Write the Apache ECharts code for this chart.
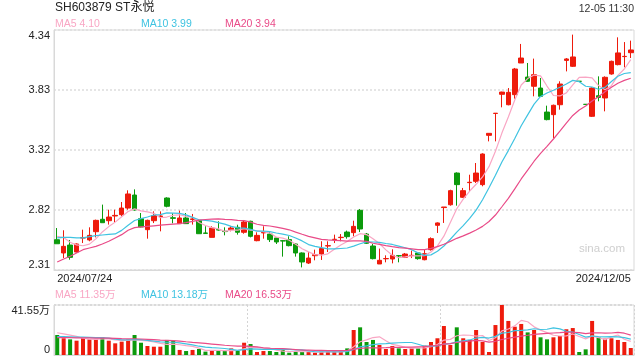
<!DOCTYPE html>
<html><head><meta charset="utf-8">
<script src="https://cdn.jsdelivr.net/npm/echarts@6.0.0/dist/echarts.min.js"></script>
<style>html,body{margin:0;padding:0;background:#fff}#c{width:640px;height:360px}</style>
</head><body><div id="c"></div>
<script>
const dates = ['2024/07/24','2024/07/25','2024/07/26','2024/07/29','2024/07/30','2024/07/31',
'2024/08/01','2024/08/02','2024/08/05','2024/08/06','2024/08/07','2024/08/08','2024/08/09','2024/08/12','2024/08/13','2024/08/14','2024/08/15','2024/08/16','2024/08/19','2024/08/20','2024/08/21','2024/08/22','2024/08/23','2024/08/26','2024/08/27','2024/08/28','2024/08/29','2024/08/30',
'2024/09/02','2024/09/03','2024/09/04','2024/09/05','2024/09/06','2024/09/09','2024/09/10','2024/09/11','2024/09/12','2024/09/13','2024/09/18','2024/09/19','2024/09/20','2024/09/23','2024/09/24','2024/09/25','2024/09/26','2024/09/27','2024/09/30',
'2024/10/08','2024/10/09','2024/10/10','2024/10/11','2024/10/14','2024/10/15','2024/10/16','2024/10/17','2024/10/18','2024/10/21','2024/10/22','2024/10/23','2024/10/24','2024/10/25','2024/10/28','2024/10/29','2024/10/30','2024/10/31',
'2024/11/01','2024/11/04','2024/11/05','2024/11/06','2024/11/07','2024/11/08','2024/11/11','2024/11/12','2024/11/13','2024/11/14','2024/11/15','2024/11/18','2024/11/19','2024/11/20','2024/11/21','2024/11/22','2024/11/25','2024/11/26','2024/11/27','2024/11/28','2024/11/29',
'2024/12/02','2024/12/03','2024/12/04','2024/12/05'];

const opens = [2.566,2.454,2.521,2.462,2.580,2.564,2.634,2.739,2.727,2.767,
2.778,2.834,2.944,2.744,2.651,2.727,2.762,2.919,2.752,2.702,
2.750,2.738,2.730,2.623,2.586,2.652,2.638,2.651,2.671,2.629,
2.722,2.558,2.624,2.614,2.581,2.558,2.567,2.530,2.454,2.369,
2.431,2.445,2.513,2.567,2.584,2.631,2.626,2.815,2.614,2.513,
2.361,2.405,2.403,2.431,2.417,2.432,2.454,2.397,2.482,2.688,
2.838,2.862,3.130,2.925,3.049,3.060,3.032,3.449,3.634,3.796,
3.708,3.793,4.061,3.942,3.864,3.849,3.646,3.624,3.708,4.083,
4.033,3.906,3.711,3.610,3.784,3.765,3.968,4.047,4.115,4.148];
const closes = [2.532,2.510,2.417,2.530,2.585,2.603,2.730,2.710,2.758,2.772,
2.834,2.953,2.818,2.674,2.730,2.770,2.767,2.849,2.747,2.750,
2.702,2.742,2.617,2.620,2.665,2.648,2.635,2.665,2.629,2.716,
2.595,2.603,2.627,2.567,2.547,2.555,2.516,2.454,2.378,2.411,
2.440,2.491,2.516,2.570,2.587,2.592,2.679,2.657,2.536,2.406,
2.392,2.407,2.434,2.429,2.445,2.434,2.406,2.448,2.575,2.708,
2.843,2.981,3.032,2.981,3.052,3.130,3.291,3.466,3.636,3.815,
3.813,4.010,4.103,3.906,3.962,3.779,3.582,3.703,3.883,4.095,
4.112,3.906,3.711,3.849,3.770,3.940,4.075,4.146,4.117,4.171];
const lows = [2.532,2.411,2.397,2.457,2.538,2.553,2.586,2.710,2.694,2.713,
2.764,2.820,2.812,2.671,2.575,2.707,2.637,2.840,2.705,2.699,
2.699,2.694,2.615,2.615,2.586,2.643,2.603,2.637,2.609,2.617,
2.586,2.553,2.575,2.547,2.530,2.423,2.510,2.423,2.332,2.361,
2.392,2.395,2.462,2.538,2.553,2.575,2.595,2.631,2.530,2.400,
2.361,2.375,2.366,2.375,2.411,2.411,2.397,2.392,2.474,2.623,
2.708,2.854,2.854,2.919,2.975,3.046,3.018,3.398,3.398,3.686,
3.703,3.759,4.061,3.900,3.779,3.773,3.576,3.427,3.666,3.990,
4.027,3.906,3.711,3.604,3.737,3.652,3.962,4.041,4.024,4.103];
const highs = [2.665,2.646,2.564,2.535,2.651,2.671,2.736,2.863,2.820,2.820,
2.885,2.984,2.992,2.792,2.736,2.806,2.806,2.925,2.790,2.812,
2.792,2.784,2.736,2.680,2.680,2.722,2.671,2.680,2.693,2.733,
2.727,2.629,2.680,2.631,2.586,2.564,2.595,2.538,2.459,2.462,
2.482,2.553,2.553,2.609,2.614,2.643,2.727,2.826,2.623,2.530,
2.491,2.434,2.485,2.437,2.454,2.474,2.459,2.482,2.586,2.713,
2.843,2.989,3.136,3.004,3.116,3.215,3.297,3.466,3.636,3.818,
3.849,4.019,4.222,4.061,4.098,3.934,3.700,3.709,3.906,4.103,
4.301,3.906,3.711,3.855,3.948,3.948,4.081,4.278,4.238,4.250];

const ma5 = [2.595,2.585,2.545,2.522,2.515,2.529,2.573,2.632,2.677,2.715,
2.761,2.805,2.827,2.810,2.802,2.789,2.752,2.758,2.773,2.777,
2.763,2.758,2.712,2.686,2.669,2.658,2.637,2.647,2.648,2.659,
2.648,2.642,2.634,2.622,2.588,2.580,2.562,2.528,2.490,2.463,
2.440,2.435,2.447,2.486,2.521,2.551,2.589,2.617,2.610,2.574,
2.534,2.480,2.435,2.414,2.421,2.430,2.430,2.432,2.462,2.514,
2.596,2.711,2.828,2.909,2.978,3.035,3.097,3.184,3.315,3.468,
3.604,3.748,3.875,3.929,3.959,3.952,3.866,3.786,3.782,3.808,
3.875,3.940,3.941,3.935,3.870,3.835,3.869,3.956,4.010,4.090];
const ma10 = [2.581,2.586,2.586,2.581,2.581,2.592,2.600,2.606,2.611,2.615,
2.645,2.689,2.729,2.744,2.758,2.775,2.779,2.793,2.791,2.789,
2.776,2.755,2.735,2.729,2.723,2.711,2.698,2.679,2.667,2.664,
2.653,2.639,2.640,2.635,2.623,2.614,2.602,2.581,2.556,2.525,
2.510,2.499,2.488,2.488,2.492,2.496,2.512,2.532,2.548,2.547,
2.543,2.534,2.526,2.512,2.498,2.482,2.455,2.434,2.438,2.468,
2.513,2.570,2.630,2.685,2.746,2.816,2.904,3.006,3.112,3.223,
3.320,3.423,3.530,3.622,3.713,3.778,3.807,3.831,3.856,3.884,
3.914,3.903,3.864,3.858,3.839,3.855,3.904,3.949,3.972,3.980];
const ma20 = [2.378,2.403,2.426,2.454,2.482,2.496,2.510,2.530,2.553,2.581,
2.609,2.646,2.668,2.674,2.679,2.684,2.689,2.694,2.698,2.702,
2.710,2.722,2.732,2.737,2.741,2.743,2.738,2.736,2.729,2.727,
2.715,2.697,2.688,2.682,2.673,2.662,2.650,2.630,2.612,2.595,
2.582,2.569,2.564,2.561,2.558,2.555,2.557,2.557,2.552,2.536,
2.526,2.516,2.507,2.500,2.495,2.489,2.483,2.483,2.493,2.508,
2.528,2.552,2.578,2.599,2.622,2.649,2.679,2.720,2.775,2.845,
2.916,2.996,3.080,3.154,3.230,3.297,3.356,3.418,3.484,3.553,
3.617,3.663,3.697,3.740,3.776,3.817,3.856,3.890,3.914,3.932];

const volumes = [16.6,13.9,13.0,11.9,13.9,13.0,13.0,14.7,11.9,9.7,
11.1,13.0,16.6,10.2,7.5,6.9,6.9,12.5,11.9,4.2,
3.3,4.2,5.0,2.8,3.6,3.3,3.3,5.5,3.6,10.2,
9.1,2.5,3.3,3.3,2.5,4.2,1.9,2.5,2.5,2.5,
1.9,2.8,2.8,2.8,2.8,5.5,20.8,23.0,10.8,12.5,
8.3,5.0,7.5,5.5,5.0,5.5,5.5,7.8,10.8,13.9,
24.1,8.3,23.0,13.9,12.5,20.8,10.8,2.5,24.9,41.55,
28.3,23.5,25.8,18.8,20.8,14.7,13.0,14.7,15.8,21.4,
22.4,2.5,4.7,28.3,14.7,13.6,13.9,12.5,10.8,5.8];
const volMa5 = [18.5,17.5,16.5,15.5,13.9,13.1,13.0,13.3,13.3,12.5,
12.1,12.1,12.5,12.1,11.7,10.8,9.6,8.8,9.1,8.5,
7.8,7.2,5.7,3.9,3.8,3.8,3.6,3.7,3.9,5.2,
6.3,6.2,5.7,5.7,4.1,3.2,3.0,2.9,2.7,2.7,
2.3,2.4,2.5,2.6,2.6,3.3,6.9,11.0,12.6,14.5,
15.1,11.9,8.8,7.8,6.3,5.7,5.8,5.9,6.9,8.7,
12.4,13.0,16.0,16.6,16.4,15.7,16.2,12.1,14.3,20.1,
21.6,24.2,28.8,27.6,23.4,20.7,18.6,16.4,15.8,15.9,
17.5,15.4,13.4,15.9,14.5,12.8,15.0,16.6,13.1,11.35];
const volMa10 = [15.2,15.2,15.0,14.8,14.8,14.6,14.4,14.5,14.0,13.2,
12.6,12.5,12.9,12.7,12.1,11.5,10.9,10.6,10.6,10.1,
9.3,8.4,7.3,6.5,6.1,5.8,5.4,4.7,3.9,4.5,
5.1,4.9,4.7,4.8,4.7,4.8,4.6,4.3,4.2,3.4,
2.7,2.7,2.7,2.6,2.7,2.8,4.7,6.7,7.6,8.6,
9.2,9.4,9.9,10.2,10.4,10.4,8.9,7.3,7.3,7.5,
9.1,9.4,10.9,11.8,12.5,14.1,14.6,14.1,15.5,18.2,
18.7,20.2,20.5,20.9,21.8,21.2,21.4,22.6,21.7,19.7,
19.1,17.0,14.9,15.8,15.2,15.1,15.2,15.0,14.5,13.18];
const volMa20 = [14.5,14.5,14.4,14.3,14.3,14.2,14.1,14.1,14.0,13.8,
13.6,13.5,13.5,13.3,13.0,12.7,12.4,12.2,11.9,11.6,
11.0,10.5,10.1,9.6,9.1,8.6,8.1,7.7,7.3,7.3,
7.2,6.7,6.0,5.6,5.4,5.3,5.0,4.5,4.0,4.0,
3.9,3.8,3.7,3.7,3.7,3.8,4.7,5.5,5.9,6.0,
6.0,6.1,6.3,6.4,6.5,6.6,6.8,7.0,7.5,8.0,
9.1,9.4,10.4,11.0,11.5,12.2,11.7,10.7,11.4,12.9,
13.9,14.8,15.7,16.4,17.2,17.6,18.0,18.3,18.6,19.0,
18.9,18.6,17.7,18.4,18.5,18.1,18.3,18.8,18.1,16.53];

const priceTicks = ['2.31','2.82','3.32','3.83','4.34'];
const volTicks = ['0','41.55万'];
const stockTitle = 'SH603879 ST永悦';
const timeLabel = '12-05 11:30';
const priceMaLabels = ['MA5 4.10','MA10 3.99','MA20 3.94'];
const volMaLabels = ['MA5 11.35万','MA10 13.18万','MA20 16.53万'];
const watermark = 'sina.com';

const RED = '#ee1b0c', GREEN = '#0c9a0c';
const MA_COLORS = ['#f9a6c4', '#3fc3e1', '#e94b88'];
const FONT = '"Liberation Sans", Arial, "Noto Sans CJK SC", sans-serif';
const legendX = [55, 141, 225];

const candleData = opens.map((o, i) => [o, closes[i], lows[i], highs[i]]);
const volData = volumes.map((v, i) => {
  const c = closes[i], o = opens[i];
  const up = c > o || (c === o && (i === 0 || c >= closes[i - 1]));
  return { value: v, itemStyle: { color: up ? RED : GREEN } };
});
const lastIdx = dates.length - 1;

function maLine(name, data, color, xi, yi) {
  return { name, type: 'line', data, xAxisIndex: xi, yAxisIndex: yi, symbol: 'none',
    lineStyle: { color, width: 1.2 }, itemStyle: { color }, z: 5, silent: true };
}

const graphic = [
  { type: 'text', x: 55, y: 7.5, style: { text: stockTitle, fill: '#222', fontSize: 12, fontFamily: FONT, align: 'left', verticalAlign: 'middle' } },
  { type: 'text', x: 634, y: 9.5, style: { text: timeLabel, fill: '#333', fontSize: 10.5, fontFamily: FONT, align: 'right', verticalAlign: 'middle' } },
  { type: 'text', x: 602, y: 249, style: { text: watermark, fill: '#cfcfcf', fontSize: 11.5, fontFamily: FONT, align: 'center', verticalAlign: 'middle' } }
];
priceMaLabels.forEach((t, k) => graphic.push({ type: 'text', x: legendX[k], y: 24.5, style: { text: t, fill: MA_COLORS[k], fontSize: 10.5, fontFamily: FONT, align: 'left', verticalAlign: 'middle' } }));
volMaLabels.forEach((t, k) => graphic.push({ type: 'text', x: legendX[k], y: 295, style: { text: t, fill: MA_COLORS[k], fontSize: 10.5, fontFamily: FONT, align: 'left', verticalAlign: 'middle' } }));

const chart = echarts.init(document.getElementById('c'));
chart.setOption({
  animation: false,
  backgroundColor: '#fff',
  textStyle: { fontFamily: FONT },
  graphic,
  grid: [
    { left: 54, right: 6, top: 30, height: 240, show: true, borderColor: '#d9d9d9', borderWidth: 1 },
    { left: 54, right: 6, top: 305, height: 50, show: true, borderColor: '#d9d9d9', borderWidth: 1 }
  ],
  xAxis: [
    { type: 'category', gridIndex: 0, data: dates, boundaryGap: true,
      axisLine: { show: true, lineStyle: { color: '#d9d9d9' } }, axisTick: { show: false },
      splitLine: { show: false },
      axisLabel: { color: '#222', fontSize: 11, fontFamily: FONT, margin: 3,
        interval: (idx) => idx === 0 || idx === lastIdx,
        alignMinLabel: 'left', alignMaxLabel: 'right', showMinLabel: true, showMaxLabel: true } },
    { type: 'category', gridIndex: 1, data: dates, boundaryGap: true,
      axisLine: { show: true, lineStyle: { color: '#d9d9d9' } }, axisTick: { show: false },
      axisLabel: { show: false },
      splitLine: { show: true, interval: (idx) => idx === 30 || idx === 60, lineStyle: { color: '#d4d4d4', type: [2, 2] } } }
  ],
  yAxis: [
    { type: 'value', gridIndex: 0, min: 2.31, max: 4.34, interval: 0.5075, scale: true,
      axisLine: { show: true, lineStyle: { color: '#d9d9d9' } }, axisTick: { show: false },
      axisLabel: { color: '#222', fontSize: 11, fontFamily: FONT, margin: 4,
        formatter: (v, i) => priceTicks[i],
        verticalAlignMinLabel: 'bottom', verticalAlignMaxLabel: 'top' },
      splitLine: { show: true, lineStyle: { color: '#dddddd', type: [2, 2], width: 1.5 } } },
    { type: 'value', gridIndex: 1, min: 0, max: 41.55, interval: 41.55,
      axisLine: { show: true, lineStyle: { color: '#d9d9d9' } }, axisTick: { show: false },
      axisLabel: { color: '#222', fontSize: 11, fontFamily: FONT, margin: 4,
        formatter: (v, i) => volTicks[i],
        verticalAlignMinLabel: 'bottom', verticalAlignMaxLabel: 'top' },
      splitLine: { show: true, lineStyle: { color: '#d4d4d4', type: [2, 2], width: 1.5 } } }
  ],
  series: [
    { name: 'K', type: 'candlestick', xAxisIndex: 0, yAxisIndex: 0, data: candleData, barWidth: 5,
      itemStyle: { color: RED, color0: GREEN, borderColor: RED, borderColor0: GREEN, borderWidth: 1 }, z: 3 },
    maLine('MA5', ma5, MA_COLORS[0], 0, 0),
    maLine('MA10', ma10, MA_COLORS[1], 0, 0),
    maLine('MA20', ma20, MA_COLORS[2], 0, 0),
    { name: 'VOL', type: 'bar', xAxisIndex: 1, yAxisIndex: 1, data: volData, barWidth: 4, z: 3 },
    maLine('VMA5', volMa5, MA_COLORS[0], 1, 1),
    maLine('VMA10', volMa10, MA_COLORS[1], 1, 1),
    maLine('VMA20', volMa20, MA_COLORS[2], 1, 1)
  ]
});
</script>
</body></html>
